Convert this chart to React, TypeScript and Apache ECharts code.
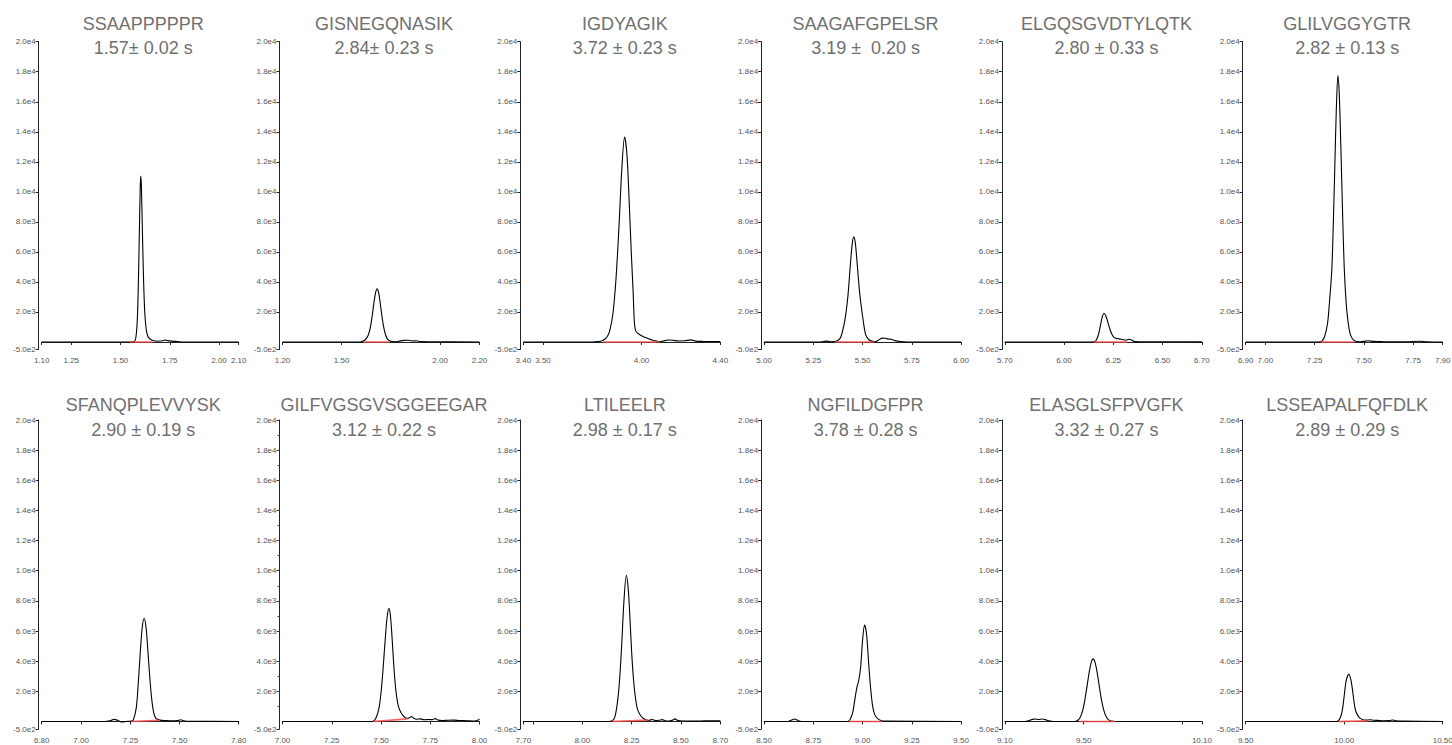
import React, { useEffect, useRef } from "react";
import * as echarts from "echarts";

// ---------- data ----------
const peptideNames = [
  "SSAAPPPPPR", "GISNEGQNASIK", "IGDYAGIK", "SAAGAFGPELSR", "ELGQSGVDTYLQTK", "GLILVGGYGTR",
  "SFANQPLEVVYSK", "GILFVGSGVSGGEEGAR", "LTILEELR", "NGFILDGFPR", "ELASGLSFPVGFK", "LSSEAPALFQFDLK",
];
const widthLabels = [
  "1.57\u00b1 0.02 s", "2.84\u00b1 0.23 s", "3.72 \u00b1 0.23 s", "3.19 \u00b1  0.20 s", "2.80 \u00b1 0.33 s", "2.82 \u00b1 0.13 s",
  "2.90 \u00b1 0.19 s", "3.12 \u00b1 0.22 s", "2.98 \u00b1 0.17 s", "3.78 \u00b1 0.28 s", "3.32 \u00b1 0.27 s", "2.89 \u00b1 0.29 s",
];
const xMins = [1.1, 1.2, 3.4, 5.0, 5.7, 6.9, 6.8, 7.0, 7.7, 8.5, 9.1, 9.5];
const xMaxs = [2.1, 2.2, 4.4, 6.0, 6.7, 7.9, 7.8, 8.0, 8.7, 9.5, 10.1, 10.5];
const xTickValues = [
  [1.1, 1.25, 1.5, 1.75, 2.0, 2.1],
  [1.2, 1.5, 2.0, 2.2],
  [3.4, 3.5, 4.0, 4.4],
  [5.0, 5.25, 5.5, 5.75, 6.0],
  [5.7, 6.0, 6.25, 6.5, 6.7],
  [6.9, 7.0, 7.25, 7.5, 7.75, 7.9],
  [6.8, 7.0, 7.25, 7.5, 7.8],
  [7.0, 7.25, 7.5, 7.75, 8.0],
  [7.7, 7.75, 8.0, 8.25, 8.5, 8.7],
  [8.5, 8.75, 9.0, 9.25, 9.5],
  [9.1, 9.5, 10.0, 10.1],
  [9.5, 10.0, 10.5],
];
const xLabelValues = [
  [1.1, 1.25, 1.5, 1.75, 2.0, 2.1],
  [1.2, 1.5, 2.0, 2.2],
  [3.4, 3.5, 4.0, 4.4],
  [5.0, 5.25, 5.5, 5.75, 6.0],
  [5.7, 6.0, 6.25, 6.5, 6.7],
  [6.9, 7.0, 7.25, 7.5, 7.75, 7.9],
  [6.8, 7.0, 7.25, 7.5, 7.8],
  [7.0, 7.25, 7.5, 7.75, 8.0],
  [7.7, 8.0, 8.25, 8.5, 8.7],
  [8.5, 8.75, 9.0, 9.25, 9.5],
  [9.1, 9.5, 10.1],
  [9.5, 10.0, 10.5],
];
const yTickValues = [-500, 2000, 4000, 6000, 8000, 10000, 12000, 14000, 16000, 18000, 20000];

const trace1 = [
  [1.10, 0], [1.55, 0], [1.570, 30], [1.578, 300], [1.585, 1400], [1.590, 3500], [1.595, 6800], [1.600, 10200],
  [1.603, 11050], [1.606, 10400], [1.611, 7500], [1.617, 4200], [1.623, 2000], [1.630, 900], [1.637, 450],
  [1.645, 250], [1.660, 120], [1.690, 50], [1.715, 80], [1.725, 130], [1.740, 90], [1.760, 60], [1.790, 30],
  [1.820, 0], [2.10, 0],
];
const trace2 = [
  [1.20, 0], [1.58, 0], [1.60, 20], [1.62, 150], [1.635, 450], [1.645, 900], [1.655, 1700], [1.665, 2700],
  [1.673, 3300], [1.680, 3550], [1.687, 3350], [1.695, 2700], [1.705, 1700], [1.715, 900], [1.725, 400],
  [1.735, 150], [1.750, 40], [1.770, 10], [1.790, 50], [1.815, 110], [1.838, 120], [1.858, 70], [1.880, 80],
  [1.900, 30], [1.960, 20], [2.20, 0],
];
const trace3 = [
  [3.40, 0], [3.75, 0], [3.78, 30], [3.80, 90], [3.815, 200], [3.83, 450], [3.84, 800], [3.855, 1900],
  [3.87, 4100], [3.885, 7500], [3.90, 11500], [3.914, 13650], [3.926, 12500], [3.937, 9500], [3.948, 6000],
  [3.957, 3500], [3.963, 1500], [3.968, 850], [3.975, 650], [3.99, 500], [4.01, 350], [4.03, 250], [4.05, 150],
  [4.07, 80], [4.09, 20], [4.11, 60], [4.135, 130], [4.16, 110], [4.19, 70], [4.22, 80], [4.25, 140],
  [4.275, 60], [4.31, 40], [4.40, 30],
];
const trace4 = [
  [5.00, 0], [5.28, 0], [5.30, 30], [5.318, 60], [5.335, 20], [5.36, 30], [5.375, 100], [5.39, 350],
  [5.41, 1460], [5.425, 3000], [5.437, 5000], [5.447, 6500], [5.455, 7000], [5.463, 6600], [5.472, 5300],
  [5.482, 3700], [5.49, 2700], [5.505, 1250], [5.516, 470], [5.532, 150], [5.55, 40], [5.565, 20], [5.58, 120],
  [5.60, 260], [5.615, 250], [5.63, 200], [5.645, 180], [5.665, 90], [5.69, 30], [5.73, 0], [6.00, 0],
];
const trace5 = [
  [5.70, 0], [6.14, 0], [6.155, 30], [6.165, 150], [6.175, 500], [6.185, 1100], [6.195, 1700], [6.203, 1910],
  [6.212, 1750], [6.222, 1350], [6.232, 900], [6.242, 550], [6.252, 330], [6.265, 240], [6.28, 210],
  [6.30, 150], [6.315, 120], [6.33, 180], [6.34, 150], [6.355, 40], [6.38, 10], [6.45, 20], [6.55, 20], [6.70, 10],
];
const trace6 = [
  [6.90, 0], [7.27, 0], [7.285, 40], [7.30, 350], [7.315, 1200], [7.325, 2600], [7.337, 4800], [7.345, 8000],
  [7.353, 12000], [7.36, 15500], [7.368, 17750], [7.375, 16500], [7.383, 13000], [7.392, 8500], [7.40, 5000],
  [7.41, 2600], [7.42, 1300], [7.43, 550], [7.44, 250], [7.455, 60], [7.48, 20], [7.50, 40], [7.52, 80],
  [7.55, 40], [7.60, 20], [7.65, 10], [7.72, 20], [7.78, 50], [7.82, 20], [7.90, 0],
];
const trace7 = [
  [6.80, 0], [7.12, 0], [7.15, 60], [7.167, 140], [7.185, 80], [7.205, -30], [7.23, 0], [7.255, 20],
  [7.265, 100], [7.28, 900], [7.29, 2500], [7.30, 4500], [7.31, 6200], [7.32, 6850], [7.33, 6200],
  [7.34, 4500], [7.35, 2700], [7.36, 1300], [7.37, 500], [7.38, 200], [7.40, 90], [7.43, 60], [7.46, 40],
  [7.49, 60], [7.505, 110], [7.52, 50], [7.55, 10], [7.80, 0],
];
const trace8 = [
  [7.00, 0], [7.44, 0], [7.46, 20], [7.475, 250], [7.49, 900], [7.50, 1900], [7.51, 3400], [7.52, 5200],
  [7.53, 6800], [7.54, 7500], [7.548, 7000], [7.556, 5600], [7.565, 3700], [7.575, 2100], [7.585, 1200],
  [7.595, 760], [7.61, 420], [7.63, 210], [7.645, 250], [7.655, 330], [7.665, 230], [7.68, 150], [7.70, 170],
  [7.72, 110], [7.74, 130], [7.76, 120], [7.775, 190], [7.79, 90], [7.81, 60], [7.84, 80], [7.87, 90],
  [7.90, 60], [7.94, 50], [7.97, 20], [7.99, 80], [8.00, 150],
];
const trace9 = [
  [7.70, 0], [8.13, 0], [8.15, 30], [8.165, 300], [8.18, 1500], [8.19, 3000], [8.20, 5200], [8.21, 7800],
  [8.223, 9700], [8.232, 8900], [8.24, 7200], [8.25, 4600], [8.26, 2700], [8.27, 1500], [8.28, 800],
  [8.295, 400], [8.31, 200], [8.325, 100], [8.34, 80], [8.355, 130], [8.37, 60], [8.39, 80], [8.405, 120],
  [8.42, 50], [8.44, 30], [8.46, 100], [8.47, 170], [8.485, 60], [8.52, 30], [8.57, 20], [8.62, 40],
  [8.68, 40], [8.70, 50],
];
const trace10 = [
  [8.50, 0], [8.62, 0], [8.64, 100], [8.655, 160], [8.67, 80], [8.69, 0], [8.92, 0], [8.935, 100],
  [8.95, 600], [8.96, 1400], [8.97, 2200], [8.98, 2700], [8.99, 3600], [9.00, 5400], [9.01, 6400],
  [9.02, 5800], [9.03, 4000], [9.04, 2300], [9.05, 1100], [9.06, 500], [9.075, 200], [9.09, 80], [9.11, 20],
  [9.50, 0],
];
const trace11 = [
  [9.10, 0], [9.20, 0], [9.22, 40], [9.24, 140], [9.255, 165], [9.27, 130], [9.29, 165], [9.305, 120],
  [9.325, 40], [9.345, 0], [9.458, 0], [9.468, 60], [9.478, 180], [9.488, 450], [9.498, 900], [9.508, 1600],
  [9.518, 2430], [9.528, 3270], [9.538, 3900], [9.548, 4150], [9.558, 3900], [9.568, 3270], [9.578, 2430],
  [9.588, 1600], [9.598, 950], [9.608, 500], [9.618, 230], [9.628, 90], [9.64, 30], [9.66, 0], [10.10, 0],
];
const trace12 = [
  [9.50, 0], [9.96, 0], [9.97, 50], [9.98, 250], [9.99, 700], [10.00, 1700], [10.01, 2700], [10.024, 3150],
  [10.035, 2700], [10.043, 2000], [10.05, 1300], [10.057, 760], [10.068, 420], [10.08, 220], [10.095, 120],
  [10.11, 90], [10.13, 110], [10.15, 80], [10.17, 70], [10.20, 50], [10.23, 60], [10.248, 100], [10.265, 40],
  [10.30, 20], [10.50, 0],
];
const traces = [trace1, trace2, trace3, trace4, trace5, trace6, trace7, trace8, trace9, trace10, trace11, trace12];

const baselines = [
  [[1.548, 0], [1.662, 0]],
  [[1.61, 0], [1.745, 0]],
  [[3.806, 0], [4.094, 0]],
  [[5.36, 0], [5.56, 0]],
  [[6.15, 0], [6.32, 0]],
  [[7.28, 0], [7.45, 0]],
  [[7.255, 0], [7.40, 80]],
  [[7.46, 0], [7.635, 170]],
  [[8.15, 0], [8.33, 90]],
  [[8.93, 0], [9.10, 0]],
  [[9.48, 0], [9.66, 0]],
  [[9.97, 0], [10.12, 40]],
];

// ---------- layout ----------
const W = 1452;
const H = 745;
const gridLeft0 = 41.7;
const colStep = 240.8;
const gridW = 197;
const rowTop = [41.7, 420];
const rowH = [307.8, 309];
const titleY1 = [23.5, 405];
const titleY2 = [48, 429.5];
const FONT = "'Liberation Sans', Arial, Helvetica, sans-serif";

function fmtExp(v: number) {
  return v.toExponential(1).replace("+", "");
}

export default function App() {
  const ref = useRef<HTMLDivElement>(null);
  useEffect(() => {
    document.body.style.margin = "0";
    if (!ref.current) return;
    const chart = echarts.init(ref.current, undefined, { renderer: "svg" });
    const grids: any[] = [];
    const xAxes: any[] = [];
    const yAxes: any[] = [];
    const series: any[] = [];
    const graphics: any[] = [];
    for (let i = 0; i < 12; i++) {
      const row = Math.floor(i / 6);
      const col = i % 6;
      const left = gridLeft0 + col * colStep;
      grids.push({
        left,
        top: rowTop[row],
        width: gridW,
        height: rowH[row],
        containLabel: false,
        outerBoundsMode: "none",
      });
      xAxes.push({
        type: "value",
        gridIndex: i,
        min: xMins[i],
        max: xMaxs[i],
        offset: 3,
        axisLine: { show: true, lineStyle: { color: "#222", width: 1 } },
        axisTick: { show: true, length: 3, customValues: xTickValues[i], lineStyle: { color: "#222" } },
        axisLabel: {
          customValues: xLabelValues[i],
          formatter: (v: number) => v.toFixed(2),
          fontSize: 8,
          color: "#555",
          margin: 4,
          fontFamily: FONT,
          showMinLabel: true,
          showMaxLabel: true,
          hideOverlap: false,
        },
        splitLine: { show: false },
      });
      yAxes.push({
        type: "value",
        gridIndex: i,
        min: -500,
        max: 20000,
        offset: 3,
        axisLine: { show: true, lineStyle: { color: "#222", width: 1 } },
        axisTick: { show: true, length: 3, customValues: yTickValues, lineStyle: { color: "#222" } },
        minorTick: i === 7 ? { show: true, splitNumber: 5, length: 2, lineStyle: { color: "#444" } } : { show: false },
        axisLabel: {
          customValues: yTickValues,
          formatter: (v: number) => fmtExp(v),
          fontSize: 8,
          color: "#555",
          margin: 3,
          fontFamily: FONT,
        },
        splitLine: { show: false },
      });
      series.push({
        type: "line",
        xAxisIndex: i,
        yAxisIndex: i,
        data: traces[i],
        showSymbol: false,
        symbol: "none",
        smooth: 0.3,
        lineStyle: { color: "#000", width: 1.1 },
        z: 2,
      });
      series.push({
        type: "line",
        xAxisIndex: i,
        yAxisIndex: i,
        data: baselines[i],
        showSymbol: false,
        symbol: "none",
        lineStyle: { color: "rgba(255,70,70,0.85)", width: 1.6 },
        z: 3,
      });
      const cx = left + gridW / 2 + 3;
      graphics.push({
        type: "text",
        x: cx,
        y: titleY1[row],
        style: {
          text: peptideNames[i],
          fontSize: 18,
          fontFamily: FONT,
          fill: "#707070",
          textAlign: "center",
          textVerticalAlign: "middle",
        },
      });
      graphics.push({
        type: "text",
        x: cx,
        y: titleY2[row],
        style: {
          text: widthLabels[i],
          fontSize: 18,
          fontFamily: FONT,
          fill: "#707070",
          textAlign: "center",
          textVerticalAlign: "middle",
        },
      });
    }
    chart.setOption({
      animation: false,
      backgroundColor: "#fff",
      textStyle: { fontFamily: FONT },
      grid: grids,
      xAxis: xAxes,
      yAxis: yAxes,
      series,
      graphic: graphics,
    });
    return () => chart.dispose();
  }, []);
  return <div ref={ref} style={{ width: W, height: H }} />;
}
